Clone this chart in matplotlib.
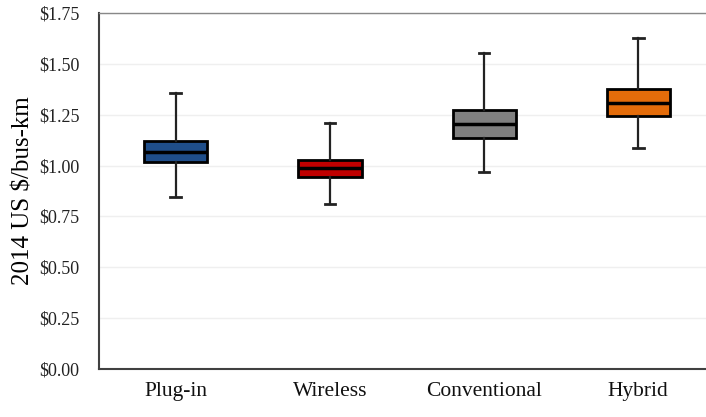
import matplotlib.pyplot as plt

plt.rcParams['font.family'] = ['Liberation Serif', 'DejaVu Serif']

categories = ['Plug-in', 'Wireless', 'Conventional', 'Hybrid']
whis_low = [0.845, 0.810, 0.970, 1.085]
q1 = [1.016, 0.945, 1.137, 1.244]
median = [1.067, 0.987, 1.203, 1.309]
q3 = [1.120, 1.027, 1.275, 1.374]
whis_high = [1.357, 1.208, 1.555, 1.626]
colors = ['#1F4E8A', '#C00000', '#808080', '#E46C0A']

stats = []
for i, name in enumerate(categories):
    stats.append(dict(label=name, whislo=whis_low[i], q1=q1[i], med=median[i],
                      q3=q3[i], whishi=whis_high[i], fliers=[]))

fig = plt.figure(figsize=(7.06, 4.17), dpi=100)
ax = fig.add_axes([0.140, 0.115, 0.860, 0.854])

bp = ax.bxp(stats, positions=range(len(categories)), widths=0.41,
            patch_artist=True, showfliers=False,
            boxprops=dict(edgecolor='black', linewidth=2),
            medianprops=dict(color='black', linewidth=2.5),
            whiskerprops=dict(color='#222222', linewidth=1.6),
            capprops=dict(color='#222222', linewidth=2),
            capwidths=0.07)
for patch, c in zip(bp['boxes'], colors):
    patch.set_facecolor(c)

ax.set_ylim(0, 1.75)
ax.set_xlim(-0.5, 3.44)
ax.set_yticks([0, 0.25, 0.5, 0.75, 1.0, 1.25, 1.5, 1.75])
ax.set_yticklabels(['$%.2f' % v for v in ax.get_yticks()])
ax.yaxis.grid(True, color='#efefef', linewidth=1)
ax.set_axisbelow(True)

ax.spines['right'].set_visible(False)
ax.spines['top'].set_color('#888888')
ax.spines['top'].set_linewidth(1)
ax.spines['left'].set_color('#404040')
ax.spines['bottom'].set_color('#404040')
ax.spines['left'].set_linewidth(1.5)
ax.spines['bottom'].set_linewidth(1.5)

ax.tick_params(axis='y', length=0, pad=14, labelsize=13, colors='#222222')
ax.tick_params(axis='x', length=0, pad=9, labelsize=15.5, colors='#111111')
ax.set_ylabel('2014 US $/bus-km', fontsize=18, labelpad=3)

fig.savefig('out.png', dpi=100)
